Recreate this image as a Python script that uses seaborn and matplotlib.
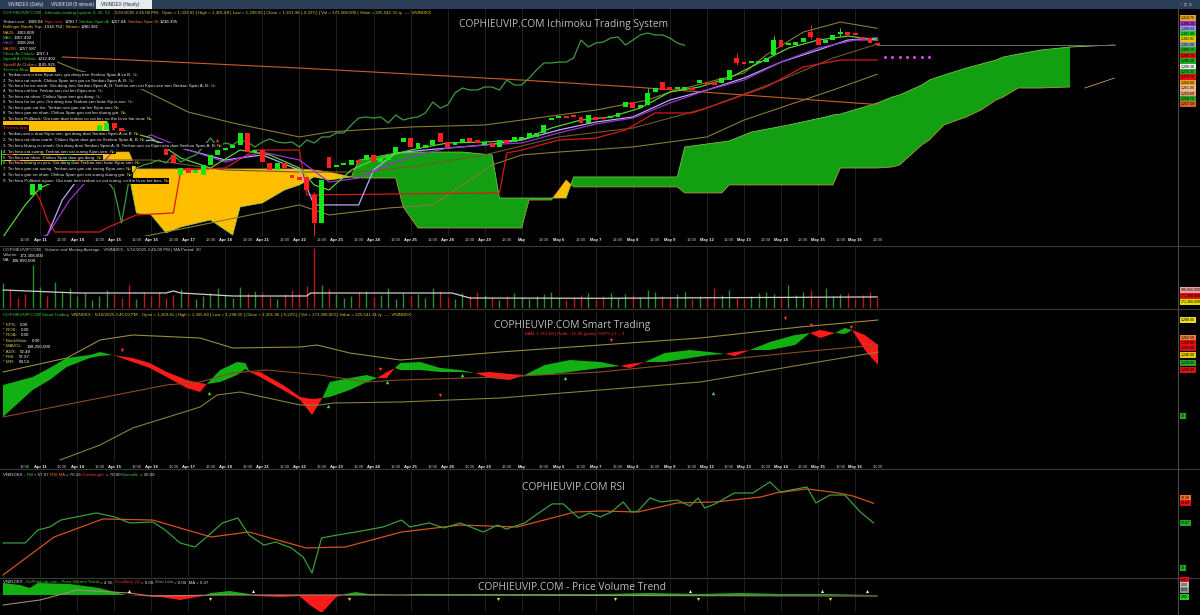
import numpy as np
import matplotlib
matplotlib.use("Agg")
import matplotlib.pyplot as plt
from matplotlib.patches import Rectangle
from matplotlib.lines import Line2D
import seaborn as sns

# --- Canvas geometry (pixels) ---
W, H = 1200, 615
PLOT_W = 1178              # price-tag strip on the right starts here
BAR0_PX, BAR_PX = 3.0, 7.41
XMIN = -BAR0_PX / BAR_PX
XMAX = (PLOT_W - BAR0_PX) / BAR_PX

# --- Day labels (5 hourly bars per session: 9h, 10h, 11h, 13h, 14h) ---
DATES = ["Apr 11", "Apr 14", "Apr 15", "Apr 16", "Apr 17", "Apr 18", "Apr 21",
         "Apr 22", "Apr 23", "Apr 24", "Apr 25", "Apr 28", "Apr 29", "May",
         "May 6", "May 7", "May 8", "May 9", "May 12", "May 13", "May 14",
         "May 15", "May 16"]

# --- Hourly candles VNINDEX (Apr 10 -> May 16 2025) ---
OPENS = [
    1212.3, 1223.5, 1216.0, 1208.5, 1189.8, 1193.5, 1202.5, 1199.5, 1201.8, 1212.3,
    1223.5, 1231.0, 1234.8, 1237.0, 1238.5, 1243.8, 1240.0, 1234.8, 1231.0, 1232.5,
    1228.8, 1227.3, 1225.8, 1219.8, 1204.8, 1210.0, 1206.3, 1204.8, 1212.3, 1219.8,
    1223.5, 1225.0, 1227.3, 1236.3, 1222.0, 1223.5, 1213.8, 1208.5, 1213.8, 1204.8,
    1203.3, 1203.3, 1189.8, 1168.8, 1218.3, 1210.8, 1212.3, 1212.3, 1216.0, 1216.0,
    1219.8, 1214.5, 1216.0, 1221.3, 1229.5, 1232.5, 1225.0, 1225.0, 1227.3, 1236.3,
    1229.5, 1227.3, 1228.8, 1232.5, 1231.0, 1227.3, 1228.8, 1225.8, 1231.0, 1229.5,
    1231.0, 1232.5, 1233.3, 1236.3, 1246.0, 1247.5, 1249.0, 1249.8, 1248.3, 1243.8,
    1248.3, 1248.3, 1247.5, 1248.3, 1255.8, 1259.5, 1255.0, 1257.3, 1267.0, 1274.5,
    1270.8, 1269.3, 1269.3, 1270.0, 1273.8, 1274.5, 1274.5, 1273.8, 1276.0, 1292.5,
    1289.5, 1288.8, 1288.8, 1289.5, 1294.8, 1306.0, 1302.3, 1302.3, 1304.5, 1312.0,
    1307.5, 1303.8, 1306.0, 1310.5, 1312.0, 1311.3, 1308.3, 1307.5, 1303.8]
CLOSES = [
    1223.5, 1216.0, 1208.5, 1204.0, 1199.5, 1201.8, 1199.5, 1201.8, 1212.3, 1223.5,
    1231.0, 1234.8, 1237.0, 1242.3, 1243.8, 1240.0, 1234.8, 1231.0, 1232.5, 1228.8,
    1227.3, 1225.8, 1219.8, 1213.8, 1210.0, 1206.3, 1208.5, 1212.3, 1219.8, 1223.5,
    1225.0, 1227.3, 1236.3, 1222.0, 1223.5, 1214.5, 1208.5, 1213.8, 1210.0, 1202.5,
    1201.0, 1193.5, 1168.8, 1201.0, 1210.0, 1212.3, 1213.8, 1216.0, 1213.8, 1219.8,
    1214.5, 1217.5, 1219.8, 1225.8, 1232.5, 1225.8, 1228.8, 1227.3, 1231.0, 1229.5,
    1225.8, 1229.5, 1231.8, 1229.5, 1228.8, 1229.5, 1225.8, 1231.0, 1228.8, 1233.3,
    1233.3, 1236.3, 1236.3, 1242.3, 1247.5, 1248.3, 1247.5, 1248.3, 1243.8, 1249.8,
    1246.0, 1247.5, 1248.3, 1251.3, 1259.5, 1255.0, 1257.3, 1266.3, 1270.0, 1268.5,
    1268.5, 1270.8, 1270.8, 1268.5, 1276.0, 1272.3, 1272.3, 1277.5, 1283.5, 1288.8,
    1288.8, 1289.5, 1289.5, 1292.5, 1306.0, 1300.8, 1303.8, 1304.5, 1307.5, 1308.3,
    1302.3, 1306.0, 1309.8, 1311.3, 1309.8, 1309.8, 1307.5, 1303.8, 1302.0]
WICK_X = [42, 87, 99, 104, 109, 113]
WICK_LO = [1150.0, 1257.0, 1287.0, 1294.0, 1307.0, 1309.0]
WICK_HI = [1192.0, 1270.0, 1296.0, 1309.0, 1317.0, 1315.0]
TOP_ARROW_X, TOP_ARROW_V = [14.8, 28.9], [1240.0, 1231.0]

# --- Overlay lines on the price panel (bar, price) ---
MA5_X = [0, 3, 5, 8, 10, 13, 16, 20, 24, 28, 32, 36, 40, 42, 44, 47, 50, 55, 60, 65,
         70, 74, 78, 82, 86, 90, 94, 98, 102, 106, 110, 114, 118]
MA5 = [1158.3, 1182.3, 1195.0, 1202.5, 1212.3, 1231.0, 1238.5, 1232.5, 1217.5, 1210.0,
       1223.5, 1219.8, 1210.0, 1197.3, 1193.5, 1208.5, 1216.0, 1223.5, 1228.8, 1229.5,
       1231.0, 1240.0, 1246.0, 1248.3, 1255.0, 1267.0, 1270.8, 1277.5, 1288.8, 1300.0,
       1306.0, 1309.0, 1306.0]
MA10_X = [0, 6, 9, 12, 15, 20, 25, 30, 35, 40, 44, 48, 52, 56, 60, 65, 70, 75, 80, 85,
          90, 95, 100, 105, 110, 115, 118]
MA10 = [1148.5, 1159.8, 1186.0, 1204.8, 1223.5, 1234.8, 1223.5, 1214.5, 1222.0, 1216.0,
        1199.5, 1202.5, 1212.3, 1219.8, 1225.0, 1227.3, 1228.8, 1236.3, 1243.0, 1247.5,
        1258.8, 1268.5, 1276.0, 1289.5, 1300.0, 1306.0, 1306.0]
TENKAN_X = [0, 6, 8, 11, 15, 20, 25, 30, 35, 40, 42, 48, 50, 53, 57, 60, 65, 70, 75, 80,
            85, 90, 95, 100, 105, 110, 114, 118]
TENKAN = [1144.8, 1159.8, 1186.0, 1208.5, 1227.3, 1231.0, 1223.5, 1216.0, 1219.8, 1208.5,
          1182.3, 1182.3, 1208.5, 1221.3, 1223.5, 1225.0, 1227.3, 1231.0, 1238.5, 1244.5,
          1248.3, 1261.0, 1268.5, 1277.5, 1289.5, 1298.5, 1306.0, 1307.5]
KIJUN_X = [0, 3, 5, 6, 7, 13, 14, 18, 23, 24, 30, 34, 40, 41, 67, 68, 70, 75, 80, 84,
           88, 93, 98, 103, 108, 113, 118]
KIJUN = [1223.5, 1204.8, 1186.0, 1171.0, 1162.0, 1162.0, 1165.0, 1174.8, 1176.3, 1208.5,
         1210.0, 1223.5, 1223.5, 1189.8, 1191.3, 1221.3, 1223.5, 1231.0, 1232.5, 1238.5,
         1251.3, 1251.3, 1261.0, 1270.8, 1285.8, 1291.0, 1291.0]
BB_TOP_X = [0, 10, 17, 25, 31, 40, 44, 48, 55, 65, 70, 80, 87, 90, 100, 103, 108, 113, 118]
BB_TOP = [1306.0, 1283.5, 1273.8, 1252.0, 1243.8, 1233.3, 1237.0, 1238.5, 1240.8, 1242.3,
          1246.0, 1253.5, 1261.0, 1267.0, 1281.3, 1294.8, 1312.0, 1319.5, 1314.8]
BB_BOT_X = [0, 10, 20, 30, 40, 44, 52, 58, 62, 66, 70, 75, 85, 95, 100, 108, 112, 118]
BB_BOT = [1141.0, 1148.5, 1159.8, 1171.0, 1182.3, 1174.8, 1180.0, 1182.3, 1197.3, 1212.3,
          1219.8, 1222.0, 1225.8, 1233.3, 1246.0, 1261.0, 1268.5, 1280.4]
MA20_X = [0, 10, 20, 30, 40, 48, 55, 65, 75, 85, 95, 105, 112, 118]
MA20 = [1223.5, 1216.0, 1216.0, 1208.5, 1207.0, 1207.0, 1210.8, 1219.8, 1233.3, 1240.0,
        1255.0, 1276.0, 1292.5, 1303.0]
MA200_X = [8, 20, 40, 55, 70, 85, 100, 118]
MA200 = [1293.3, 1290.3, 1285.0, 1280.5, 1276.0, 1270.8, 1264.8, 1257.6]
LAST_X, LAST_V = [118, 150], [1302.0, 1302.0]
DOTS_X = [119, 120, 121, 122, 123, 124, 125]
DOTS_V = [1293.3] * 7
CHIKOU_SHIFT = 26

# --- Ichimoku cloud (already displaced 26 bars forward) ---
CLOUD_X = [0, 7, 8, 14, 15, 17, 18, 20, 22, 24, 28, 31, 32, 35, 38, 40, 42, 44, 47, 48,
           53, 54, 56, 62, 66, 67, 70, 71, 74, 76, 77, 91, 92, 96, 97, 98, 101, 106, 111,
           112, 113, 118, 120, 121, 124, 125, 127, 130, 132, 134, 135, 137, 140, 144]
SPAN_A = [1204.8, 1204.8, 1204.8, 1204.8, 1204.8, 1204.8, 1176.3, 1174.8, 1161.3, 1165.8,
          1171.0, 1159.8, 1180.8, 1183.8, 1193.5, 1197.3, 1203.3, 1201.0, 1203.3, 1216.0,
          1221.3, 1221.3, 1222.0, 1222.0, 1219.8, 1187.5, 1187.5, 1187.5, 1187.5, 1187.5,
          1203.3, 1203.3, 1225.8, 1228.8, 1229.5, 1230.3, 1237.0, 1242.3, 1248.3, 1249.8,
          1250.5, 1258.8, 1263.3, 1264.8, 1272.3, 1276.0, 1279.8, 1285.0, 1288.0, 1291.0,
          1293.3, 1295.5, 1298.5, 1300.8]
SPAN_B = [1291.0, 1285.8, 1246.0, 1246.0, 1222.0, 1222.0, 1209.3, 1209.3, 1209.3, 1209.3,
          1209.3, 1209.3, 1209.3, 1209.3, 1209.3, 1209.3, 1208.5, 1207.0, 1203.3, 1202.5,
          1202.5, 1180.8, 1165.0, 1165.0, 1165.0, 1165.0, 1165.0, 1186.0, 1186.0, 1201.0,
          1195.8, 1195.8, 1191.3, 1191.3, 1191.3, 1197.3, 1197.3, 1197.3, 1197.3, 1197.3,
          1210.0, 1210.0, 1210.8, 1212.3, 1227.3, 1231.0, 1242.3, 1248.3, 1253.5, 1261.0,
          1263.3, 1270.0, 1270.0, 1270.8]
SPAN_A_TAIL_X, SPAN_A_TAIL = [144, 150], [1300.8, 1302.3]
SPAN_B_TAIL_X, SPAN_B_TAIL = [146, 150], [1270.0, 1277.5]

# --- Volume (millions) and its 20-period MA ---
VOLUME = [450, 324, 180, 252, 774, 378, 216, 468, 288, 360,
          216, 270, 144, 216, 324, 252, 180, 414, 162, 288,
          216, 288, 180, 234, 342, 252, 162, 216, 270, 360,
          234, 180, 378, 270, 306, 288, 198, 162, 252, 324,
          270, 396, 1080, 414, 342, 252, 180, 216, 288, 306,
          198, 234, 360, 162, 270, 216, 252, 180, 360, 306,
          198, 162, 270, 216, 288, 234, 180, 144, 216, 270,
          198, 162, 216, 252, 288, 180, 144, 198, 234, 270,
          162, 216, 270, 180, 252, 234, 198, 324, 288, 216,
          180, 252, 288, 162, 216, 198, 360, 234, 324, 180,
          162, 216, 270, 288, 252, 198, 414, 234, 288, 324,
          180, 360, 216, 252, 270, 162, 234, 288, 173]
VOL_MA_X = [0, 10, 22, 23, 24, 31, 41, 41.5, 60.6, 63, 80.6, 118]
VOL_MA = [324, 270, 270, 306, 270, 216, 216, 270, 270, 180, 175, 199]

# --- Smart Trading panel ---
SMART_X = [0, 4.0, 6.3, 8.6, 11.7, 13.1, 14.8, 17.5, 19.8, 22.1, 24.8, 26.6, 27.5, 29.3,
           31.6, 32.7, 33.3, 34.7, 37.8, 40.1, 41.7, 43.1, 44.1, 46.8, 49.1, 50.5, 51.8,
           52.9, 53.6, 56.3, 59.0, 61.7, 63.7, 65.7, 68.4, 70.4, 73.1, 76.5, 80.6, 83.3,
           84.6, 86.6, 89.3, 92.7, 95.4, 97.4, 98.8, 100.8, 103.5, 106.9, 108.9, 110.3,
           112.3, 113.6, 114.6, 116.3, 118.1]
SMART_FAST = [1215, 1223, 1232, 1242, 1245, 1248, 1245, 1238, 1232, 1223, 1212, 1208, 1216,
              1230, 1238, 1237, 1228, 1223, 1210, 1200, 1185, 1202, 1218, 1222, 1225, 1222,
              1222, 1232, 1237, 1238, 1232, 1230, 1227, 1222, 1220, 1225, 1235, 1240, 1238,
              1234, 1232, 1238, 1247, 1250, 1248, 1246, 1244, 1250, 1258, 1265, 1267, 1262,
              1267, 1272, 1270, 1250, 1235]
SMART_SLOW = [1183, 1210, 1220, 1233, 1242, 1244, 1245, 1242, 1237, 1228, 1220, 1217, 1216,
              1218, 1225, 1231, 1228, 1228, 1215, 1203, 1201, 1202, 1203, 1210, 1218, 1222,
              1228, 1232, 1230, 1230, 1228, 1228, 1227, 1228, 1226, 1225, 1225, 1228, 1232,
              1234, 1236, 1238, 1238, 1242, 1245, 1246, 1248, 1250, 1250, 1255, 1267, 1270,
              1267, 1266, 1270, 1265, 1255]
BAND_UP_X = [0, 8.6, 13.1, 17.5, 26.6, 31, 40.1, 42.4, 46.8, 53.6, 67.1, 80.6, 94.1, 107.6, 118.1]
BAND_UP = [1228, 1242, 1260, 1265, 1262, 1252, 1253, 1255, 1247, 1240, 1248, 1255, 1262, 1273, 1280]
BAND_MID_X = [0, 13.1, 22.1, 26.6, 31, 35.6, 42.8, 49.1, 53.6, 67.1, 80.6, 94.1, 107.6, 118.1]
BAND_MID = [1183, 1202, 1215, 1218, 1227, 1230, 1225, 1218, 1220, 1223, 1228, 1238, 1248, 1255]
BAND_LO_X = [7.7, 13.1, 17.5, 26.6, 28.9, 32, 40.1, 42.8, 44.5, 53.6, 67.1, 80.6, 94.1, 107.6, 118.1]
BAND_LO = [1140, 1155, 1172, 1193, 1205, 1208, 1195, 1195, 1197, 1198, 1202, 1210, 1218, 1235, 1248]
SELL_X, SELL_V = [16.0, 50.9, 59.0, 82.0, 105.5, 109.0, 114.5], [1250, 1231, 1205, 1260, 1282, 1275, 1273]
BUY_X, BUY_V = [27.8, 43.9, 51.8, 62.0, 75.8, 95.8], [1207, 1194, 1218, 1225, 1222, 1207]

# --- RSI panel ---
RSI_X = [0, 3, 4.7, 6.3, 7.8, 12.6, 15.1, 17.1, 20.2, 21.9, 23.9, 25.9, 27.8, 29.6, 31.7,
         33.2, 35.2, 36.8, 38.9, 40.5, 41.7, 43.0, 45.1, 47.6, 51.3, 53.8, 54.9, 57.5, 59.5,
         61.7, 64.8, 66.8, 67.9, 70.4, 72.5, 74.1, 75.6, 77.7, 79.2, 80.6, 82.1, 83.7, 84.8,
         85.7, 87.3, 88.8, 91.0, 92.7, 93.8, 94.7, 96.1, 98.7, 101.2, 103.5, 104.9, 108.5,
         109.7, 111.6, 113.6, 115.7, 117.5]
RSI = [45.6, 45.6, 53.6, 55.5, 59.8, 64.2, 61.7, 58.0, 58.6, 53.6, 45.6, 43.1, 50.5, 58.0,
       61.1, 50.5, 44.3, 46.2, 42.5, 36.9, 27.0, 48.7, 50.5, 52.4, 55.5, 59.8, 55.5, 58.0,
       54.9, 58.0, 52.4, 56.7, 54.2, 58.0, 64.8, 69.8, 69.8, 61.1, 64.2, 61.7, 64.8, 71.0,
       64.8, 65.4, 73.5, 71.0, 72.2, 68.5, 73.5, 67.3, 69.8, 76.6, 76.6, 83.4, 77.2, 80.3,
       70.4, 75.3, 75.3, 64.8, 57.97]
RSI_MA_X = [0, 6.9, 13.5, 20.2, 28.1, 33.2, 40.9, 46.2, 53.8, 61.7, 69.4, 77.2, 80.6, 85.7,
            91.0, 96.1, 102.3, 104.3, 108.5, 112.7, 114.7, 117.5]
RSI_MA = [25.7, 49.3, 60.5, 59.8, 49.3, 52.4, 42.5, 43.1, 52.4, 56.7, 55.5, 64.8, 65.4, 64.8,
          70.4, 71.0, 74.1, 76.6, 79.1, 76.6, 74.7, 70.16]

# --- Price Volume Trend panel ---
PVT_X = [0, 2.3, 3.6, 4.7, 9, 13, 16.6, 21.3, 23.9, 27, 28, 30.6, 33.2, 34, 37.4, 40, 41.4,
         43, 45, 46.2, 47.6, 49.3, 53.6, 56.3, 64.4, 73.8, 80.6, 87.3, 94, 99.5, 104.9,
         111.6, 117.5]
PVT = [6, 5, 3.5, 6, 5.5, 3.5, 0, -1, -2.5, -0.5, 1, 2, 0.5, -0.5, -1, -0.5, -5, -9, -1,
       0.5, 1.5, 0.5, 0, 0.5, 0.5, 0.5, 0.5, 1, 0.5, 1, 0.5, 0.5, 0]
PVT_MA_X = [0, 5, 10, 17, 20, 30, 50, 118]
PVT_MA = [-5, -2.5, 2.5, 1, -0.5, 0, 0, -0.5]
PVT_UP_X = [17, 33.7, 92.7, 110.5, 116.6]
PVT_DN_X = [28, 46.7, 66.8, 82.6, 93.8, 111.6]

MUA_ROWS = [
    "1. Tenkan-sen o tren Kijun-sen, gia dong tren Senkou Span A va B:",
    "2. Tin hieu rat manh: Chikou Span tren gia va Senkou Span A, B:",
    "3. Tin hieu ho tro manh: Gia dong tren Senkou Span A, B. Tenkan-sen cat Kijun-sen tren Senkou Span A, B:",
    "4. Tin hieu cat len: Tenkan-sen cat len Kijun-sen:",
    "5. Tin hieu rat nhan: Chikou Span tren gia dong:",
    "6. Tin hieu ho tro yeu: Gia dong tren Tenkan-sen hoac Kijun-sen:",
    "7. Tin hieu gan cat len: Tenkan-sen gan cat len Kijun-sen:",
    "8. Tin hieu gan rat nhan: Chikou Span gan cat len duong gia:",
    "9. Tin hieu Pullback: Gia nam duoi tenkan co cat len, co the la co hoi mua:"]
BAN_ROWS = [
    "1. Tenkan-sen o duoi Kijun-sen, gia dong duoi Senkou Span A va B:",
    "2. Tin hieu rat nhan manh: Chikou Span duoi gia va Senkou Span A, B:",
    "3. Tin hieu khang cu manh: Gia dong duoi Senkou Span A, B. Tenkan-sen va Kijun-sen duoi Senkou Span A, B:",
    "4. Tin hieu cat xuong: Tenkan-sen cat xuong Kijun-sen:",
    "5. Tin hieu rat nhan: Chikou Span duoi gia dong:",
    "6. Tin hieu khang cu yeu: Gia dong duoi Tenkan-sen hoac Kijun-sen:",
    "7. Tin hieu gan cat xuong: Tenkan-sen gan cat xuong Kijun-sen:",
    "8. Tin hieu gan rat nhan: Chikou Span gan cat xuong duong gia:",
    "9. Tin hieu Pullback nguoc: Gia nam tren tenkan co cat xuong, co the la co hoi ban:"]

QUOTE = ("5/16/2025 2:45:00 PM - Open = 1,303.81 | High = 1,305.68 | Low = 1,298.55 | "
         "Close = 1,301.96 (-0.22%) | Vol = 173,308,000 | Value = 225,541.31 ty")

# --- Style ---
sns.set_theme(style="dark")
plt.rcParams["font.family"] = ["Liberation Sans", "DejaVu Sans"]
plt.rcParams["axes.facecolor"] = "black"
plt.rcParams["figure.facecolor"] = "black"

fig = plt.figure(figsize=(W / 100, H / 100), dpi=100)
renderer = fig.canvas.get_renderer()
DATE_BARS = [5 * (k + 1) for k in range(len(DATES))]
HOUR_BARS = [5 * k + 3 for k in range(len(DATES) + 1)]


def panel(top, bottom):
    ax = fig.add_axes([0, 1 - bottom / H, PLOT_W / W, (bottom - top) / H])
    ax.set_facecolor("black")
    ax.set_xlim(XMIN, XMAX)
    for s in ax.spines.values():
        s.set_visible(False)
    ax.set_xticks([])
    ax.set_yticks([])
    ax.grid(False)
    for b in DATE_BARS:
        ax.axvline(b, color="#242424", lw=0.6, zorder=0)
    return ax


def line(ax, xs, ys, color, lw=0.8, z=3):
    sns.lineplot(x=xs, y=ys, ax=ax, color=color, linewidth=lw, estimator=None,
                 sort=False, legend=False, zorder=z)


def x_labels(ax, off):
    tr = ax.get_xaxis_transform()
    for b in HOUR_BARS:
        ax.text(b, off, "13:00", transform=tr, fontsize=3.0, color="#bfbfbf",
                ha="center", va="center", clip_on=False)
    for b, d in zip(DATE_BARS, DATES):
        ax.text(b, off, d, transform=tr, fontsize=3.0, color="#f0f0f0",
                ha="center", va="center", weight="bold", clip_on=False)


def chain(x, y, parts, size=3.2, bg=True, gap=1.0):
    # y is the visual centre line of the row; draw on a common baseline
    cx = x
    base = y + 1.6
    for txt, col in parts:
        kw = {"bbox": dict(facecolor="black", edgecolor="none", pad=0.5)} if bg else {}
        t = fig.text(cx / W, 1 - base / H, txt, color=col, fontsize=size, ha="left",
                     va="baseline", zorder=6, **kw)
        cx += t.get_window_extent(renderer=renderer).width + gap
    return cx


def watermark(x, y, txt):
    fig.text(x / W, 1 - y / H, txt, fontsize=7.4, color="#bcbcbc", ha="center",
             va="center", family=["Open Sans", "DejaVu Sans"], zorder=6)


# ================= Ichimoku price panel =================
ax1 = panel(9, 236)
cx = np.array(CLOUD_X, float)
sa = np.array(SPAN_A)
sb = np.array(SPAN_B)
ax1.fill_between(cx, sa, sb, where=sa >= sb, interpolate=True, color="#12a012", lw=0, zorder=1)
ax1.fill_between(cx, sa, sb, where=sa < sb, interpolate=True, color="#ffbf00", lw=0, zorder=1)
line(ax1, CLOUD_X, SPAN_A, "#8fcf5a", 0.5, 2)
line(ax1, CLOUD_X, SPAN_B, "#c8a04a", 0.5, 2)
line(ax1, SPAN_A_TAIL_X, SPAN_A_TAIL, "#8fcf5a", 0.6, 2)
line(ax1, SPAN_B_TAIL_X, SPAN_B_TAIL, "#c8a04a", 0.6, 2)
line(ax1, MA200_X, MA200, "#c8602a", 0.8)
line(ax1, BB_TOP_X, BB_TOP, "#8a7a34", 0.8)
line(ax1, BB_BOT_X, BB_BOT, "#8a7a34", 0.8)
line(ax1, MA20_X, MA20, "#6e5a28", 0.8)
line(ax1, KIJUN_X, KIJUN, "#d81818", 0.9)
line(ax1, TENKAN_X, TENKAN, "#b4acf0", 0.9)
line(ax1, MA10_X, MA10, "#9a32d0", 0.9)
line(ax1, MA5_X, MA5, "#5ccf3a", 0.9)
chik = CLOSES[CHIKOU_SHIFT:]
line(ax1, list(range(len(chik))), chik, "#3d9a3d", 0.9)
line(ax1, LAST_X, LAST_V, "#6a6a6a", 0.7)
ax1.scatter(DOTS_X, DOTS_V, s=5, color="#e040e0", zorder=4, linewidths=0)
ax1.scatter(TOP_ARROW_X, TOP_ARROW_V, marker="^", s=6, color="#ff3030", zorder=4, linewidths=0)

bars = np.arange(len(CLOSES))
op = np.array(OPENS)
cl = np.array(CLOSES)
body = cl - op
body = np.where(np.abs(body) < 1.6, np.where(body >= 0, 1.6, -1.6), body)
cols = np.where(cl >= op, "#19e619", "#ff1f1f")
wick_cols = [cols[i] for i in WICK_X]
ax1.vlines(WICK_X, WICK_LO, WICK_HI, colors=wick_cols, lw=0.7, zorder=4)
ax1.bar(bars, body, bottom=op, width=0.66, color=cols, linewidth=0, zorder=5)
ax1.set_ylim(1159, 1329.3)
ax1.set_xlim(XMIN, XMAX)
x_labels(ax1, -0.0176)

# ================= Volume panel =================
ax2 = panel(247, 308)
vcols = np.where(cl >= op, "#2c8c2c", "#b81c1c")
ax2.vlines(bars, 0, VOLUME, colors=vcols, lw=1.0, zorder=2)
line(ax2, VOL_MA_X, VOL_MA, "#cfcfcf", 0.9)
ax2.set_ylim(0, 1098)
ax2.set_xlim(XMIN, XMAX)

# ================= Smart Trading panel =================
ax3 = panel(311, 462)
sx = np.array(SMART_X)
f = np.array(SMART_FAST, float)
s = np.array(SMART_SLOW, float)
ax3.fill_between(sx, f, s, where=f >= s, interpolate=True, color="#12b012", lw=0, zorder=2)
ax3.fill_between(sx, f, s, where=f < s, interpolate=True, color="#ff1a1a", lw=0, zorder=2)
line(ax3, BAND_UP_X, BAND_UP, "#9a8a40", 0.8)
line(ax3, BAND_MID_X, BAND_MID, "#8a4a22", 0.8)
line(ax3, BAND_LO_X, BAND_LO, "#8a8036", 0.8)
ax3.scatter(SELL_X, SELL_V, marker="v", s=6, color="#ff3030", zorder=4, linewidths=0)
ax3.scatter(BUY_X, BUY_V, marker="^", s=6, color="#40e040", zorder=4, linewidths=0)
ax3.set_ylim(1138, 1289)
ax3.set_xlim(XMIN, XMAX)
x_labels(ax3, -0.033)

# ================= RSI panel =================
ax4 = panel(471, 577)
line(ax4, RSI_MA_X, RSI_MA, "#d2521e", 0.9)
line(ax4, RSI_X, RSI, "#3c9c3c", 0.9)
ax4.set_ylim(24.5, 90.2)
ax4.set_xlim(XMIN, XMAX)

# ================= PVT panel =================
ax5 = panel(579, 612)
px_ = np.array(PVT_X, float)
pv = np.array(PVT, float)
ax5.fill_between(px_, pv, 0, where=pv >= 0, interpolate=True, color="#12b012", lw=0, zorder=2)
ax5.fill_between(px_, pv, 0, where=pv < 0, interpolate=True, color="#ff1a1a", lw=0, zorder=2)
line(ax5, PVT_MA_X, PVT_MA, "#a48a72", 0.8)
ax5.scatter(PVT_UP_X, [1.8] * len(PVT_UP_X), marker="^", s=5, color="#f0f0f0", zorder=4, linewidths=0)
ax5.scatter(PVT_DN_X, [-1.8] * len(PVT_DN_X), marker="v", s=5, color="#f0e040", zorder=4, linewidths=0)
ax5.set_ylim(-8.5, 8)
ax5.set_xlim(XMIN, XMAX)

# ================= Frame: separators, tab bar, price tags =================
for y in [246, 309, 469, 578]:
    fig.add_artist(Line2D([0, 1], [1 - y / H] * 2, transform=fig.transFigure,
                          color="#3a3a3a", lw=0.8))
fig.add_artist(Line2D([PLOT_W / W] * 2, [0, 1 - 9 / H], transform=fig.transFigure,
                      color="#4a4a4a", lw=0.8))
fig.add_artist(Rectangle((0, 1 - 9 / H), 1, 9 / H, transform=fig.transFigure,
                         facecolor="#2c3d57", edgecolor="none", zorder=4))
fig.add_artist(Rectangle((96 / W, 1 - 9 / H), 56 / W, 9 / H, transform=fig.transFigure,
                         facecolor="#e6ebf1", edgecolor="none", zorder=5))
for x, txt, col in [(8, "VNINDEX (Daily)", "#e8e8e8"), (51, "VN30F1M (5 minute)", "#e8e8e8"),
                    (101, "VNINDEX (Hourly)", "#202020"), (1180, "-  \u25a1  x", "#d0d0d0")]:
    fig.text(x / W, 1 - 4.5 / H, txt, fontsize=3.3, color=col, va="center", ha="left", zorder=6)

TAGS = [(18, "#e8a020", "1,314.75"), (24, "#9933cc", "1,308.28"), (29, "#9a9ae6", "1,308.04"),
        (34, "#22cc22", "1,307.49"), (39, "#e8c800", "1,303.01"), (45, "#8fa0b4", "1,301.96"),
        (50, "#22aa22", "1,300.75"), (56, "#e01010", "1,290.70"), (61, "#22aa22", "1,286.20"),
        (67, "#f0f0f0", "1,280.38"), (72, "#22aa22", "1,272.25"), (77, "#e01010", "1,270.75"),
        (83, "#f0a020", "1,264.80"), (88, "#f0b890", "1,261.00"), (94, "#e0a070", "1,259.60"),
        (99, "#22aa22", "1,258.75"), (104, "#e06020", "1,257.59"),
        (290, "#f0a0a0", "198,850,000"), (296, "#e01010", "173,308,000"), (302, "#e8e000", "173,308,000"),
        (320, "#e8e020", "1,280.00"), (338, "#f08040", "1,262.50"), (343, "#e01010", "1,258.00"),
        (348, "#e01010", "1,255.00"), (355, "#e8c800", "1,248.00"), (363, "#22aa22", "1,238.00"),
        (370, "#e01010", "1,235.00"), (416, "#22aa22", "30"),
        (498, "#f07030", "70.16"), (503, "#e01010", "70.00"), (523, "#22aa22", "57.97"),
        (568, "#22aa22", "30"),
        (580, "#e01010", "0.47"), (585, "#c0c0c0", "0.00"), (590, "#909090", "0.00"),
        (597, "#22cc22", "4.95")]
for y, col, txt in TAGS:
    fig.text(1181 / W, 1 - y / H, txt, fontsize=2.6, color="black", va="center", ha="left",
             zorder=6, bbox=dict(facecolor=col, edgecolor="none", pad=0.6))

# ================= Texts =================
chain(3, 12.5, [("COPHIEUVIP.COM - Ichimoku trading system 9, 26, 52", "#2ecc40"),
                (" - " + QUOTE, "#d4c84a"), (" ---- VNINDEX", "#e8d000")], bg=False)
chain(3, 21, [("Tenkan-sen:", "#d8d8d8"), ("1308.04", "white"), ("Kijun-sen:", "#ff3030"),
              ("1290.7", "white"), ("Senkou Span A:", "#33cc33"), ("1257.04", "white"),
              ("Senkou Span B:", "#e08040"), ("1238.395", "white")])
chain(3, 26.5, [("Bollinger Bands Top:", "#e8c020"), ("1314.752 |", "white"),
                ("Bottom:", "#e8c020"), ("1280.381", "white")])
info = [("MA20:", "#ff9900", "1303.009"), ("MA5:", "#33cc33", "1307.492"),
        ("MA10:", "#9933cc", "1308.284"), ("MA200:", "#ff6600", "1257.587"),
        ("Close At Chikou:", "#33cc33", "1297.1"), ("SpanA At Chikou:", "#33cc33", "1212.402"),
        ("SpanB At Chikou:", "#e08040", "1195.925")]
for k, (lab, col, val) in enumerate(info):
    chain(3, 32 + 5.35 * k, [(lab, col), (val, "white")])
chain(3, 69, [("Tin hieu Mua:", "#33cc33")])
for k, row in enumerate(MUA_ROWS):
    chain(3, 74.5 + 5.45 * k, [(row, "#e6e6e6"), ("No", "#3fae3f" if k < 6 else "#c8d020")])
chain(3, 127.5, [("Tin hieu Ban:", "#ff3030")])
for k, row in enumerate(BAN_ROWS):
    chain(3, 133.5 + 5.85 * k, [(row, "#e6e6e6"), ("No", "#c8d020")])

chain(3, 249.5, [("COPHIEUVIP.COM - Volume and Moving Average - VNINDEX - 5/16/2025 2:45:00 PM | MA Period: 20", "#c8c8c8")], bg=False)
chain(3, 254.5, [("Volume:", "#c8c8c8"), ("173,308,000", "white")], bg=False)
chain(3, 259.5, [("MA:", "#c8c8c8"), ("198,850,000", "white")], bg=False)

chain(3, 314.5, [("COPHIEUVIP.COM Smart Trading", "#2ecc40"), (" VNINDEX - " + QUOTE, "#d4c84a"),
                 (" ---- VNINDEX", "#e8d000")], bg=False)
stats = [("* EPS:", "0.00"), ("* ROE:", "0.00"), ("* ROA:", "0.00"), ("* BookValue:", "0.00"),
         ("* MAVOL:", "198,250,000"), ("* ADX:", "52.48"), ("* RSI:", "57.97"), ("* MFI:", "69.53")]
for k, (lab, val) in enumerate(stats):
    chain(3, 324 + 5.4 * k, [(lab, "#d8d060"), (val, "white")], bg=False, gap=4)
fig.text(575 / W, 1 - 334 / H, "BAN: 1,313.69 | Profit: -11.45 (point) -0.87% | T + 3",
         fontsize=3.2, color="#ff3030", ha="center", va="center", zorder=6)

chain(3, 474.5, [("VNINDEX -", "#d8d8d8"), ("RSI", "#33cc33"), ("= 57.97", "#d8d8d8"),
                 ("RSI MA", "#ff6a20"), ("= 70.16", "#d8d8d8"), ("Overbought", "#ff3030"),
                 ("= 70.00", "#d8d8d8"), ("Oversold", "#33cc33"), ("= 30.00", "#d8d8d8")], bg=False)
chain(3, 581.5, [("VNINDEX -", "#d8d8d8"), ("CoPhieuvip.com - Price Volume Trend", "#33cc33"),
                 ("= 4.95,", "#d8d8d8"), ("Oscillator (3)", "#ff3030"), ("= 0.00,", "#d8d8d8"),
                 ("Zero Line", "#a0a0a0"), ("= 0.00, MA = 0.47", "#d8d8d8")], bg=False)

watermark(564, 25, "COPHIEUVIP.COM Ichimoku Trading System")
watermark(572, 326, "COPHIEUVIP.COM Smart Trading")
watermark(573, 487, "COPHIEUVIP.COM RSI")
watermark(572, 587, "COPHIEUVIP.COM - Price Volume Trend")

fig.savefig("out.png", dpi=100, facecolor="black")
